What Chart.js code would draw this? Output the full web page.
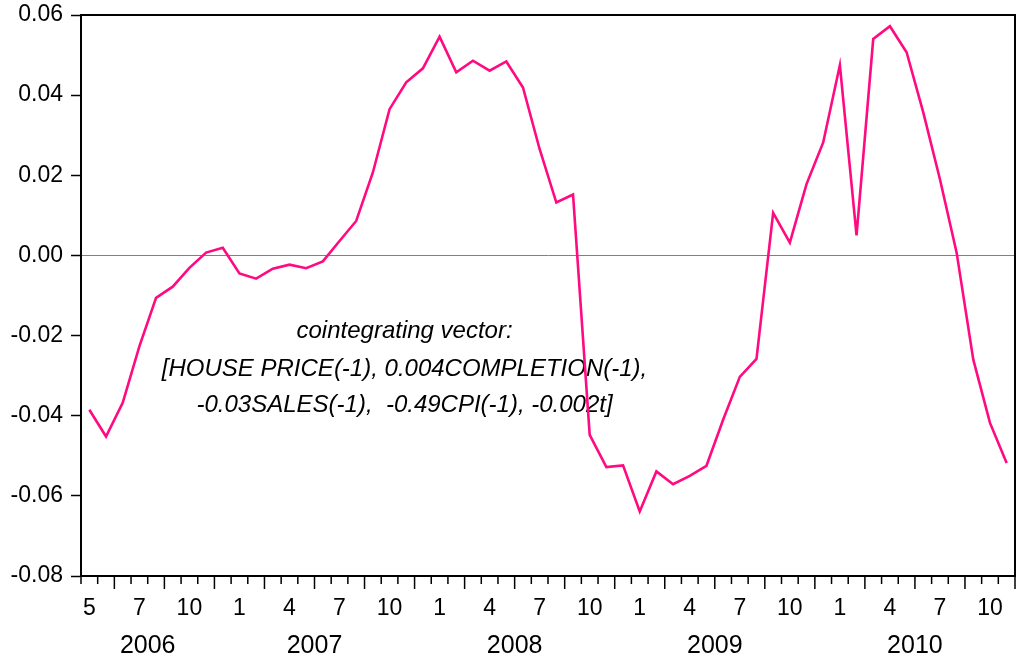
<!DOCTYPE html>
<html>
<head>
<meta charset="utf-8">
<script src="https://cdn.jsdelivr.net/npm/chart.js@4.4.1/dist/chart.umd.min.js"></script>
<style>
  html, body { margin: 0; padding: 0; background: #ffffff; }
  #wrap { width: 1024px; height: 660px; position: relative; }
</style>
</head>
<body>
<div id="wrap"><canvas id="c" width="1024" height="660"></canvas></div>
<script>
// ---- data (monthly, 2006M05 .. 2010M12) ----
const categories = [
  '2006M05','2006M06','2006M07','2006M08','2006M09','2006M10','2006M11','2006M12',
  '2007M01','2007M02','2007M03','2007M04','2007M05','2007M06','2007M07','2007M08','2007M09','2007M10','2007M11','2007M12',
  '2008M01','2008M02','2008M03','2008M04','2008M05','2008M06','2008M07','2008M08','2008M09','2008M10','2008M11','2008M12',
  '2009M01','2009M02','2009M03','2009M04','2009M05','2009M06','2009M07','2009M08','2009M09','2009M10','2009M11','2009M12',
  '2010M01','2010M02','2010M03','2010M04','2010M05','2010M06','2010M07','2010M08','2010M09','2010M10','2010M11','2010M12'
];
const residuals = [
  -0.0385, -0.0452, -0.0368, -0.0227, -0.0106, -0.0078, -0.0031, 0.0007,
  0.0019, -0.0045, -0.0058, -0.0033, -0.0023, -0.0032, -0.0015, 0.0036, 0.0086, 0.0207, 0.0365, 0.0432,
  0.0467, 0.0546, 0.0457, 0.0486, 0.0461, 0.0484, 0.0419, 0.0265, 0.0132, 0.0152, -0.0448, -0.0528,
  -0.0524, -0.0639, -0.0539, -0.0571, -0.0550, -0.0525, -0.0410, -0.0303, -0.0258, 0.0106, 0.0032, 0.0178,
  0.0282, 0.0475, 0.0050, 0.0540, 0.0572, 0.0507, 0.0357, 0.0190, 0.0007, -0.0260, -0.0418, -0.0518
];
// month tick labels and the category index each is centred on
const monthTickLabels = ['5','7','10','1','4','7','10','1','4','7','10','1','4','7','10','1','4','7','10'];
const monthTickIndex  = [0,3,6,9,12,15,18,21,24,27,30,33,36,39,42,45,48,51,54];
const yearLabels = ['2006','2007','2008','2009','2010'];
const yTickValues = [-0.08, -0.06, -0.04, -0.02, 0.00, 0.02, 0.04, 0.06];
const noteLines = [
  'cointegrating vector:',
  '[HOUSE PRICE(-1), 0.004COMPLETION(-1),',
  '-0.03SALES(-1),  -0.49CPI(-1), -0.002t]'
];
// annotation anchor in data coordinates (category index, value of each line)
const noteX = 18.9;
const noteY = [-0.019, -0.0285, -0.0373];

const FONT = '"Liberation Sans", Arial, Helvetica, sans-serif';

const eviewsPlugin = {
  id: 'eviews',
  beforeDatasetsDraw(chart) {
    const {ctx, scales: {x, y}} = chart;
    ctx.save();
    ctx.fillStyle = '#000';
    ctx.font = 'italic 24px ' + FONT;
    ctx.textAlign = 'center';
    ctx.textBaseline = 'middle';
    const cx = x.getPixelForValue(noteX);
    noteLines.forEach((t, i) => ctx.fillText(t, cx, y.getPixelForValue(noteY[i])));
    ctx.restore();
  },
  afterDraw(chart) {
    const {ctx, chartArea: a, scales: {x}} = chart;
    ctx.save();
    // frame top and right
    ctx.strokeStyle = '#000';
    ctx.lineWidth = 2;
    ctx.beginPath();
    ctx.moveTo(a.left, a.top);
    ctx.lineTo(a.right, a.top);
    ctx.lineTo(a.right, a.bottom);
    ctx.stroke();
    // monthly tick marks at period boundaries, longer at quarter starts
    ctx.lineWidth = 1.5;
    for (let k = 0; k <= categories.length; k++) {
      const px = x.getPixelForValue(k - 0.5);
      let month;
      if (k < categories.length) month = parseInt(categories[k].slice(5), 10);
      else month = parseInt(categories[k - 1].slice(5), 10) % 12 + 1;
      const len = ([1, 4, 7, 10].includes(month)) ? 13 : 8;
      ctx.beginPath();
      ctx.moveTo(px, a.bottom);
      ctx.lineTo(px, a.bottom + len);
      ctx.stroke();
    }
    // year labels centred on each year's span
    ctx.fillStyle = '#000';
    ctx.font = '25px ' + FONT;
    ctx.textAlign = 'center';
    ctx.textBaseline = 'middle';
    yearLabels.forEach(yr => {
      const idx = categories.map((c, i) => c.startsWith(yr) ? i : -1).filter(i => i >= 0);
      const x0 = x.getPixelForValue(idx[0] - 0.5);
      const x1 = x.getPixelForValue(idx[idx.length - 1] + 0.5);
      ctx.fillText(yr, (x0 + x1) / 2, a.bottom + 70);
    });
    ctx.restore();
  }
};

new Chart(document.getElementById('c'), {
  type: 'line',
  data: {
    labels: categories,
    datasets: [{
      data: residuals,
      borderColor: '#FF0A80',
      borderWidth: 2.6,
      pointRadius: 0,
      tension: 0,
      fill: false
    }]
  },
  options: {
    responsive: false,
    animation: false,
    devicePixelRatio: 1,
    layout: { padding: { top: 15, right: 9, left: 0, bottom: 0 } },
    plugins: { legend: { display: false }, tooltip: { enabled: false } },
    scales: {
      x: {
        type: 'category',
        offset: true,
        grid: { display: false, drawTicks: false, tickLength: 0, offset: true },
        border: { display: true, color: '#000', width: 2 },
        ticks: {
          autoSkip: false,
          maxRotation: 0,
          minRotation: 0,
          padding: 19,
          color: '#000',
          font: { family: FONT, size: 23 },
          callback: (v, i) => {
            const j = monthTickIndex.indexOf(i);
            return j >= 0 ? monthTickLabels[j] : '';
          }
        },
        afterFit: s => { s.height = 84; s.paddingLeft = 0; s.paddingRight = 0; }
      },
      y: {
        min: -0.08,
        max: 0.06,
        afterBuildTicks: s => { s.ticks = yTickValues.map(v => ({ value: v })); },
        grid: {
          drawOnChartArea: true,
          color: c => (c.tick && Math.abs(c.tick.value) < 1e-9) ? '#808080' : 'rgba(0,0,0,0)',
          lineWidth: 1,
          tickColor: '#000',
          tickWidth: 1.5,
          tickLength: 10
        },
        border: { display: true, color: '#000', width: 2 },
        ticks: {
          padding: 8,
          color: '#000',
          font: { family: FONT, size: 23 },
          callback: v => Math.abs(v) < 1e-9 ? '0.00' : Number(v).toFixed(2)
        },
        afterFit: s => { s.width = 81; s.paddingTop = 0; s.paddingBottom = 0; }
      }
    }
  },
  plugins: [eviewsPlugin]
});
</script>
</body>
</html>
